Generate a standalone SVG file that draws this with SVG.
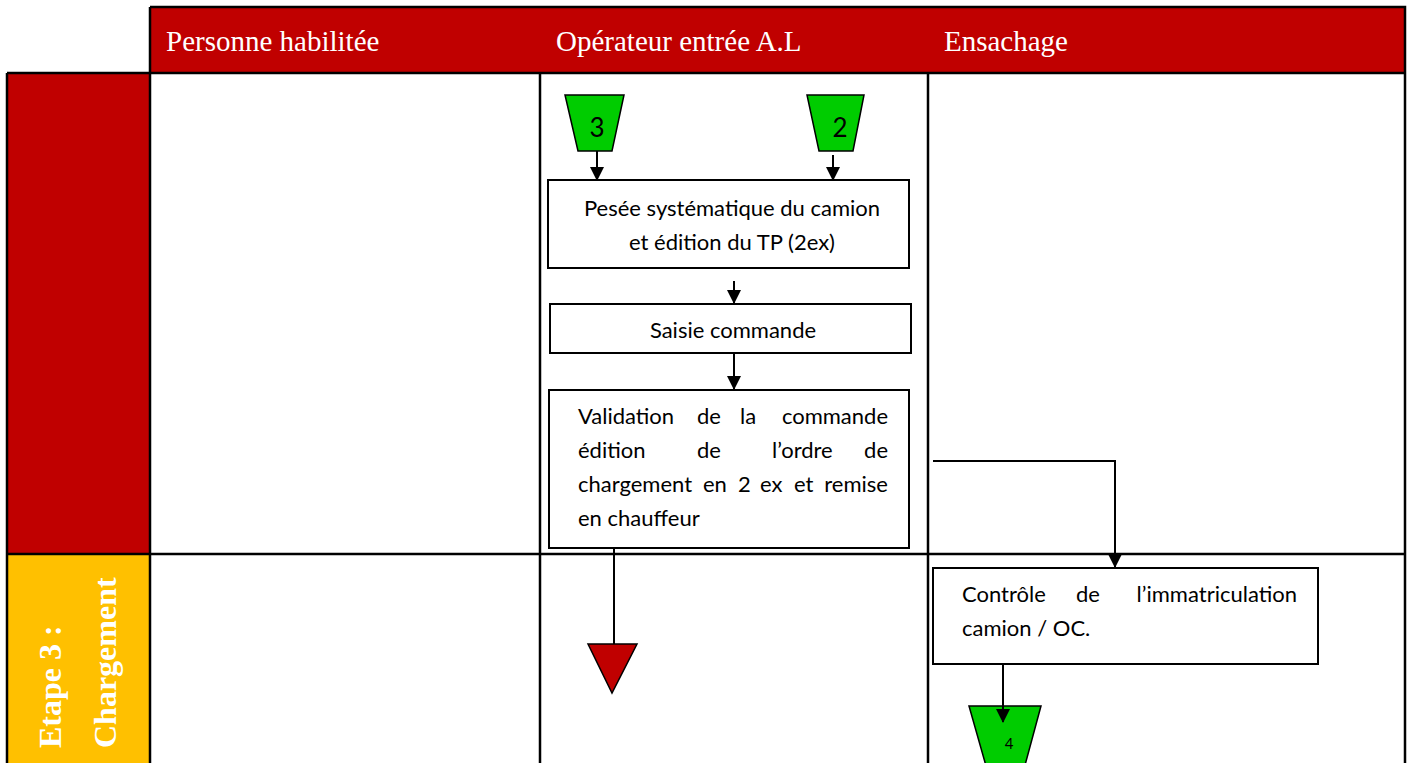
<svg xmlns="http://www.w3.org/2000/svg" width="1411" height="763" viewBox="0 0 1411 763">
<style>
.grid{stroke:#000;stroke-width:2.5;fill:none}
.hdr{font-family:"Liberation Serif",serif;font-size:29px;fill:#fff}
.stage{font-family:"Liberation Serif",serif;font-size:32px;font-weight:bold;fill:#fff}
.box{fill:#fff;stroke:#000;stroke-width:2}
.t{font-family:Lato,"Liberation Sans",sans-serif;font-size:22px;fill:#000}
.conn{stroke:#000;stroke-width:2;fill:none}
.off{fill:#00CC00;stroke:#000;stroke-width:1.5}
.num{font-family:Lato,"Liberation Sans",sans-serif;fill:#000}
</style>
<defs>
<marker id="ah" markerWidth="14" markerHeight="14" refX="13" refY="7" orient="auto" markerUnits="userSpaceOnUse" viewBox="0 0 14 14">
<path d="M0,0 L14,7 L0,14 z" fill="#000"/>
</marker>
</defs>
<rect width="1411" height="763" fill="#fff"/>
<g id="grid">
<rect x="150" y="7" width="1255" height="66" fill="#C00000"/>
<rect x="7" y="73" width="143" height="481" fill="#C00000"/>
<rect x="7" y="554" width="143" height="212" fill="#FFC000"/>
<path class="grid" d="M150,7 H1405 V766 M150,7 V766 M7,73 H1405 M7,73 V766 M7,554 H1405 M540,73 V766 M928,73 V766"/>
<text class="hdr" x="166" y="51">Personne habilitée</text>
<text class="hdr" x="556" y="51">Opérateur entrée A.L</text>
<text class="hdr" x="944" y="51">Ensachage</text>
<text class="stage" transform="translate(61,748) rotate(-90)">Etape 3 :</text>
<text class="stage" transform="translate(116,748) rotate(-90)">Chargement</text>
</g>
<g id="connectors">
<path class="conn" d="M597,151 V180" marker-end="url(#ah)"/>
<path class="conn" d="M833,155 V180" marker-end="url(#ah)"/>
<path class="conn" d="M734,281 V303" marker-end="url(#ah)"/>
<path class="conn" d="M734,353 V389" marker-end="url(#ah)"/>
<path class="conn" d="M933,461 H1115 V567" marker-end="url(#ah)"/>
<path class="conn" d="M614,548 V644"/>
</g>
<g id="off3">
<polygon class="off" points="565,95 624,95 612,151 578,151"/>
<text class="num" x="597" y="137" font-size="26" text-anchor="middle">3</text>
</g>
<g id="off2">
<polygon class="off" points="807,95 864,95 853,151 819,151"/>
<text class="num" x="840" y="137" font-size="26" text-anchor="middle">2</text>
</g>
<g id="box1">
<rect class="box" x="548" y="180" width="361" height="88"/>
<text class="t" x="732" y="216" text-anchor="middle">Pesée systématique du camion</text>
<text class="t" x="732" y="250" text-anchor="middle">et édition du TP (2ex)</text>
</g>
<g id="box2">
<rect class="box" x="550" y="304" width="361" height="49"/>
<text class="t" x="733" y="338" text-anchor="middle">Saisie commande</text>
</g>
<g id="box3">
<rect class="box" x="549" y="390" width="360" height="158"/>
<text class="t" x="578" y="424">Validation</text>
<text class="t" x="697" y="424">de</text>
<text class="t" x="740" y="424">la</text>
<text class="t" x="888" y="424" text-anchor="end">commande</text>
<text class="t" x="578" y="458">édition</text>
<text class="t" x="697" y="458">de</text>
<text class="t" x="772" y="458">l’ordre</text>
<text class="t" x="888" y="458" text-anchor="end">de</text>
<text class="t" x="578" y="492">chargement</text>
<text class="t" x="703" y="492">en</text>
<text class="t" x="738" y="492">2</text>
<text class="t" x="760" y="492">ex</text>
<text class="t" x="794" y="492">et</text>
<text class="t" x="888" y="492" text-anchor="end">remise</text>
<text class="t" x="578" y="526">en chauffeur</text>
</g>
<g id="end">
<polygon points="588,644 637,644 612,693" fill="#C00000" stroke="#000" stroke-width="1.5"/>
</g>
<g id="box4">
<rect class="box" x="933" y="568" width="385" height="96"/>
<text class="t" x="962" y="602">Contrôle</text>
<text class="t" x="1076" y="602">de</text>
<text class="t" x="1297" y="602" text-anchor="end">l’immatriculation</text>
<text class="t" x="962" y="636">camion / OC.</text>
</g>
<g id="off4">
<polygon class="off" points="969,706 1041,706 1021,780 990,780"/>
<text class="num" x="1009" y="749" font-size="15" text-anchor="middle">4</text>
</g>
<g id="connectors2">
<path class="conn" d="M1003,664 V722" marker-end="url(#ah)"/>
</g>
</svg>
